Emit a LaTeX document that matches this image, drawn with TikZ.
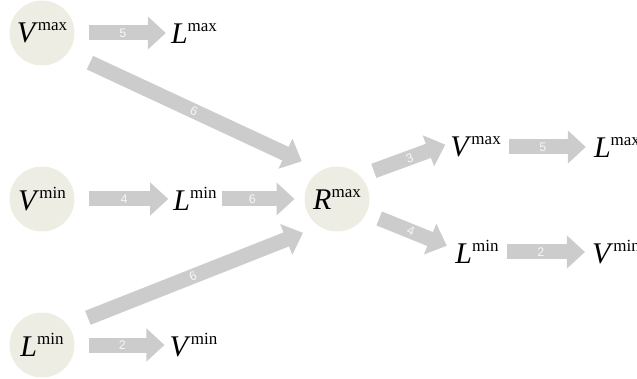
\documentclass[tikz,border=0pt]{standalone}
\usepackage{fontspec}
\setmainfont{Liberation Serif}
\setsansfont{Liberation Sans}
\usepackage{tikz}
\usetikzlibrary{arrows.meta}

\definecolor{nodefill}{HTML}{EEEDE4}
\definecolor{flowgray}{HTML}{CCCCCC}
\definecolor{lbltext}{HTML}{F7F7F7}

\newcommand{\lvl}[2]{\textit{#1}\raisebox{12pt}{\fontsize{17}{17}\selectfont #2}}

\begin{document}
\begin{tikzpicture}[x=1pt,y=-1pt,>={Triangle[length=18pt,width=32pt]},
                    shorten >=4pt,shorten <=4pt]

  \tikzstyle{level}=[circle,fill=nodefill,minimum size=65pt,inner sep=0pt,
                     outer sep=10pt,font=\fontsize{30}{30}\selectfont]
  \tikzstyle{term}=[inner sep=1pt,font=\fontsize{30}{30}\selectfont]
  \tikzstyle{flow}=[->,draw=flowgray,line width=15pt]
  \tikzstyle{weight}=[pos=0.45,sloped,text=lbltext,
                      font=\sffamily\fontsize{12.5}{12.5}\selectfont]

  \useasboundingbox (0,0) rectangle (637,379);

  \node[level] (VXa) at (42,33)    {\lvl{V}{max}};
  \node[term]  (LXa) at (194,33)   {\lvl{L}{max}};
  \node[level] (VNa) at (42,199)   {\lvl{V}{min}};
  \node[term]  (LNa) at (195,199)  {\lvl{L}{min}};
  \node[level] (LNb) at (42,345)   {\lvl{L}{min}};
  \node[term]  (VNb) at (193.5,345) {\lvl{V}{min}};
  \node[level] (RX)  at (337,199)  {\lvl{R}{max}};
  \node[term]  (VXb) at (475.5,147) {\lvl{V}{max}};
  \node[term]  (LXb) at (617,147)  {\lvl{L}{max}};
  \node[term]  (LNc) at (477,252)  {\lvl{L}{min}};
  \node[term]  (VNc) at (616,252)  {\lvl{V}{min}};

  \path
  (VXa)     edge [flow]                                node [weight]         {5} (LXa)
  (VXa.-34) edge [flow,shorten <=14pt,shorten >=10pt]  node [weight,pos=0.5] {6} (RX.128)
  (VNa)     edge [flow]                                node [weight]         {4} (LNa)
  (LNa)     edge [flow,shorten >=0pt]                  node [weight]         {6} (RX)
  (LNb.33)  edge [flow,shorten <=11pt,shorten >=6pt]   node [weight,pos=0.5] {6} (RX.228)
  (LNb)     edge [flow]                                node [weight]         {2} (VNb)
  (RX.39)   edge [flow]                                node [weight,pos=0.5] {3} (VXb.172)
  (RX.-25)  edge [flow,shorten >=8pt]                  node [weight]         {4} (LNc.172)
  (VXb)     edge [flow,shorten <=7pt,shorten >=7pt]    node [weight]         {5} (LXb)
  (LNc)     edge [flow,shorten <=7pt,shorten >=6pt]    node [weight]         {2} (VNc);
\end{tikzpicture}
\end{document}
